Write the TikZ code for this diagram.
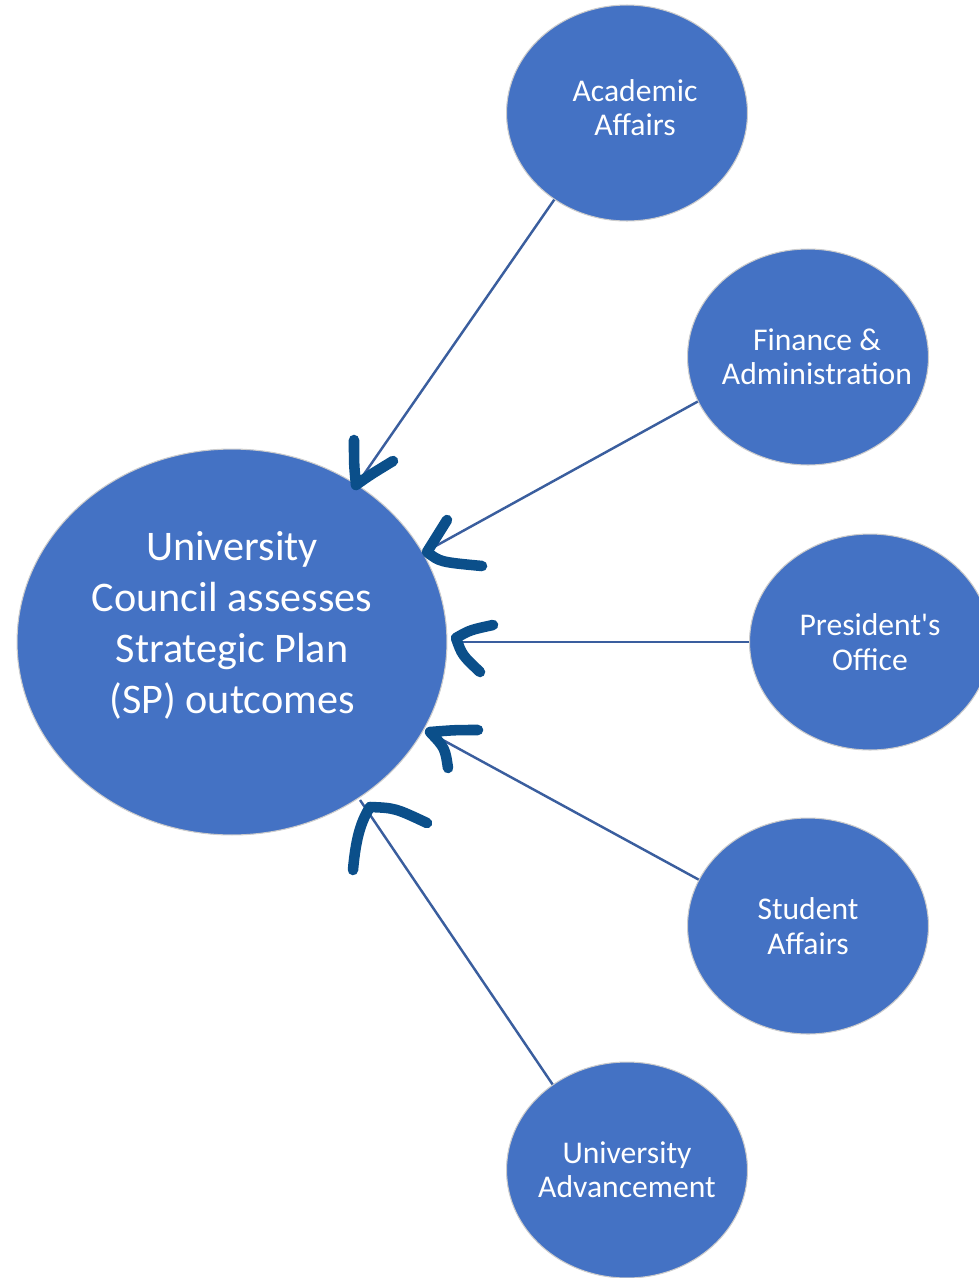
\documentclass[tikz,border=0pt]{standalone}
\usepackage{fontspec}
\setmainfont{Carlito}[Ligatures=TeXOff]
\usetikzlibrary{shapes.geometric}
\definecolor{unitblue}{HTML}{4472C4}
\definecolor{linkblue}{HTML}{3A5E9E}
\definecolor{penblue}{HTML}{0B4F8A}
\tikzset{
unit/.style={ellipse, fill=unitblue, draw=white!80!black, line width=0.6pt, inner sep=0pt}, % every bubble
office/.style={unit, minimum width=4.82cm, minimum height=4.32cm}, % the five offices
council/.style={unit, minimum width=8.6cm, minimum height=7.72cm}, % big bubble on the left
bubble text/.style={text=white, align=center, font=\fontsize{18}{19.5}\selectfont}, % text sits on top, so it never widens a bubble
council text/.style={bubble text, font=\fontsize{24}{29}\selectfont, yshift=0.34cm},
link/.style={draw=linkblue, line width=1.4pt}, % thin connector
pen/.style={draw=penblue, line width=6pt, line cap=round, line join=round}, % hand drawn arrow heads
}

\begin{document}
\begin{tikzpicture}[x=0.02cm, y=-0.02cm]
\useasboundingbox (0,0) rectangle (979,1278);
%UC,AA,FA,PO,SA,UA
\node[council, label={[council text]center:University\\Council assesses\\Strategic Plan\\(SP) outcomes}] (UC) at (232,642) {};
\node[office, label={[bubble text, xshift=0.16cm, yshift=0.1cm]center:Academic\\Affairs}] (AA) at (627,113) {};
\node[office, label={[bubble text, xshift=0.18cm]center:Finance \&\\Administration}] (FA) at (808,357) {};
\node[office, label={[bubble text]center:President's\\Office}] (PO) at (870,642) {};
\node[office, label={[bubble text]center:Student\\Affairs}] (SA) at (808,926) {};
\node[office, label={[bubble text]center:University\\Advancement}] (UA) at (627,1170) {};
% where the connectors stop, just outside UC
\coordinate (tipAA) at (360,480);
\coordinate (tipFA) at (432,548);
\coordinate (tipPO) at (452,642);
\coordinate (tipSA) at (430,733);
\coordinate (tipUA) at (360,800);
\draw[link] (AA.230) -- (tipAA);
\draw[link] (FA.202) -- (tipFA);
\draw[link] (PO.west) -- (tipPO);
\draw[link] (SA.157) -- (tipSA);
\draw[link] (UA.131) -- (tipUA);
% pen strokes
\draw[pen] (354,440) .. controls (354,465) .. (356,485) .. controls (370,475) .. (393,461);
\draw[pen] (447,520) -- (427,552) .. controls (440,562) .. (482,566);
\draw[pen] (493,625) .. controls (470,630) .. (456,638) .. controls (462,655) .. (480,672);
\draw[pen] (478,730) .. controls (455,730) .. (430,732) .. controls (445,748) .. (448,768);
\draw[pen] (353,870) .. controls (356,835) and (362,820) .. (370,807) .. controls (395,808) .. (427,823);
\end{tikzpicture}
\end{document}
